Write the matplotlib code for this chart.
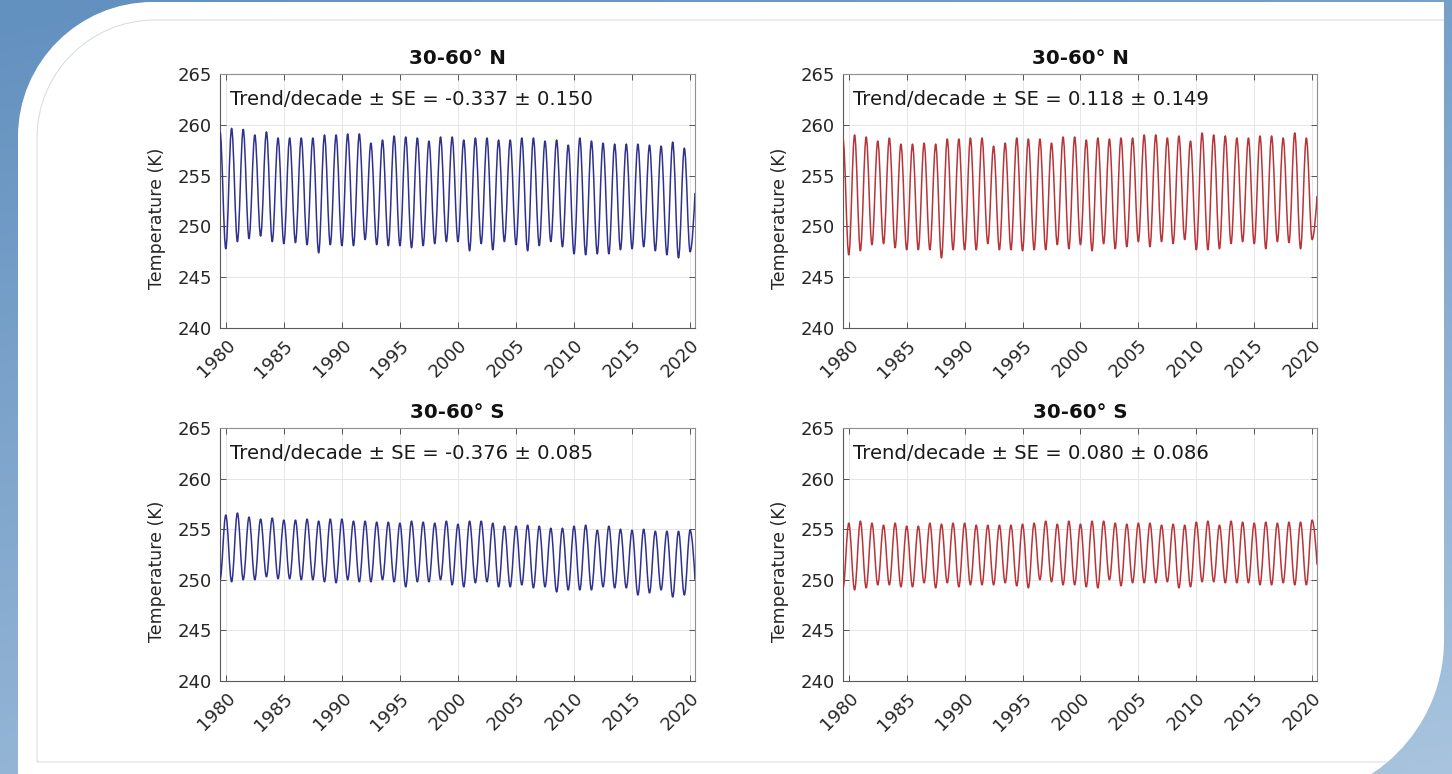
import numpy as np
import matplotlib
matplotlib.use("Agg")
import matplotlib.pyplot as plt
import matplotlib.transforms as mtransforms
from matplotlib.path import Path
from matplotlib.patches import PathPatch, FancyBboxPatch

plt.rcParams["font.family"] = ["DejaVu Sans"]

# ---------------------------------------------------------------------------
# Monthly zonal-mean temperature, summarised by its seasonal extremes (K)
# ---------------------------------------------------------------------------
years_a = list(range(1979, 2020))      # mid-year extremes (1979.5 ... 2019.5)
years_b = list(range(1980, 2021))      # January extremes (1980 ... 2020)
end_time = 2020.42                      # last plotted month

# 30-60 N, left series: July maxima and January minima
n_left_max = [259.3, 259.65, 259.55, 259.0, 259.3, 258.7, 258.7, 258.7, 258.7, 259.0,
              259.0, 259.1, 259.1, 258.2, 258.5, 258.9, 258.8, 258.7, 258.4, 258.8,
              258.8, 258.5, 258.7, 258.7, 258.5, 258.5, 258.7, 258.7, 258.4, 258.5,
              258.0, 258.7, 258.4, 258.2, 258.1, 258.1, 258.1, 258.0, 257.9, 258.3,
              257.7]
n_left_min = [247.8, 248.5, 248.8, 249.05, 248.5, 248.3, 248.4, 248.2, 247.4, 248.2,
              248.1, 248.1, 248.7, 248.2, 248.1, 248.1, 247.9, 248.1, 248.3, 248.5,
              248.5, 247.6, 248.3, 247.7, 248.5, 248.2, 247.6, 248.1, 248.5, 248.0,
              247.3, 247.2, 247.3, 247.3, 247.7, 247.8, 248.0, 247.6, 247.2, 246.9,
              247.5]
n_left_end = 253.3

# 30-60 N, right series
n_right_max = [258.6, 259.0, 258.8, 258.4, 258.7, 258.1, 258.1, 258.2, 258.1, 258.6,
               258.6, 258.7, 258.7, 257.9, 258.2, 258.7, 258.6, 258.6, 258.2, 258.8,
               258.8, 258.5, 258.7, 258.6, 258.7, 258.7, 259.0, 259.0, 258.7, 258.9,
               258.4, 259.2, 259.0, 258.9, 258.7, 258.7, 258.9, 258.9, 258.7, 259.2,
               258.7]
n_right_min = [247.2, 247.6, 248.2, 248.3, 247.9, 247.7, 247.7, 247.7, 246.9, 247.7,
               247.7, 247.7, 248.3, 247.7, 247.7, 247.6, 247.7, 247.7, 248.2, 247.8,
               248.2, 247.6, 248.3, 247.8, 248.0, 248.5, 248.0, 248.5, 248.3, 248.7,
               247.7, 247.7, 247.8, 248.3, 248.5, 248.3, 247.8, 248.5, 248.4, 247.8,
               248.7]
n_right_end = 253.0

# 30-60 S, left series: July minima and January maxima
s_left_min = [250.0, 249.8, 250.0, 250.0, 250.3, 250.1, 250.1, 250.0, 250.0, 249.8,
              249.7, 250.0, 249.8, 249.8, 250.0, 249.8, 249.3, 249.8, 249.8, 250.0,
              249.5, 249.3, 249.7, 249.8, 249.3, 249.3, 249.5, 249.2, 249.3, 248.8,
              249.0, 249.0, 249.0, 249.3, 249.2, 249.2, 248.5, 248.7, 249.0, 248.3,
              248.5]
s_left_max = [256.4, 256.6, 256.2, 256.0, 256.1, 255.9, 255.9, 256.0, 255.8, 256.0,
              256.0, 255.8, 255.8, 255.7, 255.7, 255.6, 255.8, 255.7, 255.6, 255.8,
              255.5, 255.8, 255.8, 255.6, 255.3, 255.3, 255.4, 255.3, 255.1, 255.1,
              255.3, 255.4, 254.9, 255.3, 255.0, 254.9, 255.0, 254.8, 254.8, 254.8,
              254.9]
s_left_end = 250.0

# 30-60 S, right series
s_right_min = [249.2, 249.0, 249.2, 249.5, 249.5, 249.3, 249.3, 249.7, 249.2, 249.7,
               249.3, 249.5, 249.5, 249.5, 249.7, 249.4, 249.2, 250.0, 249.8, 249.5,
               249.5, 249.3, 249.2, 250.0, 249.4, 249.7, 249.7, 249.7, 249.8, 249.2,
               249.3, 249.8, 249.8, 249.7, 249.7, 249.7, 249.5, 249.5, 249.7, 249.5,
               249.5]
s_right_max = [255.6, 255.8, 255.6, 255.4, 255.6, 255.3, 255.3, 255.6, 255.5, 255.6,
               255.6, 255.4, 255.4, 255.4, 255.4, 255.5, 255.6, 255.8, 255.5, 255.8,
               255.5, 255.8, 255.8, 255.6, 255.5, 255.6, 255.6, 255.4, 255.5, 255.4,
               255.7, 255.8, 255.4, 255.8, 255.7, 255.6, 255.7, 255.6, 255.7, 255.7,
               255.9]
s_right_end = 251.5

titles = ["30-60° N", "30-60° N", "30-60° S", "30-60° S"]
trend_labels = ["Trend/decade ± SE = -0.337 ± 0.150",
                "Trend/decade ± SE = 0.118 ± 0.149",
                "Trend/decade ± SE = -0.376 ± 0.085",
                "Trend/decade ± SE = 0.080 ± 0.086"]
x_ticks = [1980, 1985, 1990, 1995, 2000, 2005, 2010, 2015, 2020]
y_ticks = [240, 245, 250, 255, 260, 265]

BLUE = "#30318f"
RED = "#b83438"


def seasonal_series(mid_vals, jan_vals, end_val):
    """Merge mid-year and January extremes into one time-ordered sequence."""
    pts = [(y + 0.5, v) for y, v in zip(years_a, mid_vals)]
    pts += [(float(y), v) for y, v in zip(years_b, jan_vals)]
    pts.sort()
    pts.append((end_time, end_val))
    return pts


def smooth_path(pts):
    """Cubic path with level tangents at each seasonal turning point."""
    verts = [pts[0]]
    codes = [Path.MOVETO]
    for i in range(1, len(pts)):
        (t0, y0), (t1, y1) = pts[i - 1], pts[i]
        dt = t1 - t0
        if i == len(pts) - 1:
            c1 = (t0 + 0.4 * dt, y0)
            c2 = (t1 - 0.15 * dt, y0 + 0.7 * (y1 - y0))
        else:
            c1 = (t0 + 0.36 * dt, y0)
            c2 = (t1 - 0.36 * dt, y1)
        verts += [c1, c2, (t1, y1)]
        codes += [Path.CURVE4] * 3
    return Path(verts, codes)


def card_path(x0, y0, x1, y1, r_tl, r_br):
    """Card outline (y downward): rounded top-left and bottom-right corners."""
    k = 0.5523
    verts = [(x0, y1), (x0, y0 + r_tl),
             (x0, y0 + r_tl * (1 - k)), (x0 + r_tl * (1 - k), y0), (x0 + r_tl, y0),
             (x1, y0), (x1, y1 - r_br),
             (x1, y1 - r_br * (1 - k)), (x1 - r_br * (1 - k), y1), (x1 - r_br, y1),
             (x0, y1)]
    codes = [Path.MOVETO, Path.LINETO,
             Path.CURVE4, Path.CURVE4, Path.CURVE4,
             Path.LINETO, Path.LINETO,
             Path.CURVE4, Path.CURVE4, Path.CURVE4,
             Path.CLOSEPOLY]
    return Path(verts, codes)


series = [
    (seasonal_series(n_left_max, n_left_min, n_left_end), BLUE),
    (seasonal_series(n_right_max, n_right_min, n_right_end), RED),
    (seasonal_series(s_left_min, s_left_max, s_left_end), BLUE),
    (seasonal_series(s_right_min, s_right_max, s_right_end), RED),
]

W, H = 1452, 774
fig = plt.figure(figsize=(W / 100, H / 100), dpi=100)

# ---- framed card background ----
bg = fig.add_axes([0, 0, 1, 1], zorder=-10)
bg.set_xlim(0, W)
bg.set_ylim(H, 0)
bg.axis("off")
gx, gy = np.meshgrid(np.linspace(0, 1, 160), np.linspace(0, 1, 90))
tmix = np.clip(0.6 * gy + 0.25 * gx, 0, 1)[..., None]
c_dark = np.array([0x62, 0x90, 0xbf]) / 255
c_light = np.array([0xb4, 0xcd, 0xe4]) / 255
bg.imshow(c_dark * (1 - tmix) + c_light * tmix, extent=(0, W, H, 0), aspect="auto",
          interpolation="bicubic", zorder=0)
card = PathPatch(card_path(18, 2, 1444, 800, 135, 160), fc="white", ec="none",
                 zorder=1)
bg.add_patch(card)
inner = PathPatch(card_path(37, 20, 1520, 762, 118, 130), fc="none",
                  ec="#d3dbe3", lw=0.7, zorder=2)
bg.add_patch(inner)
inner.set_clip_path(card)

# ---- panels (pixel boxes: left, top, right, bottom) ----
boxes = [(220, 74, 695, 328), (843, 74, 1317, 328),
         (220, 428, 695, 681), (843, 428, 1317, 681)]
label_shift = mtransforms.ScaledTranslation(3 / 100, 0, fig.dpi_scale_trans)

for (pts, color), box, title, label in zip(series, boxes, titles, trend_labels):
    l, t, r, b = box
    ax = fig.add_axes([l / W, 1 - b / H, (r - l) / W, (b - t) / H])
    ax.add_patch(PathPatch(smooth_path(pts), fc="none", ec=color, lw=1.1,
                           joinstyle="round", zorder=3))
    ax.set_xlim(1979.5, 2020.42)
    ax.set_ylim(240, 265)
    ax.set_xticks(x_ticks)
    ax.set_yticks(y_ticks)
    ax.set_xticklabels([str(v) for v in x_ticks], rotation=45, ha="right",
                       va="top", rotation_mode="anchor")
    for lab in ax.get_xticklabels():
        lab.set_transform(lab.get_transform() + label_shift)
    ax.tick_params(direction="in", length=4, width=0.7, colors="#555555",
                   labelcolor="#262626", labelsize=13, top=True, right=True,
                   pad=6)
    ax.grid(True, color="#e6e6e6", lw=0.7)
    ax.set_axisbelow(True)
    for side, sp in ax.spines.items():
        sp.set_color("#5a5a5a" if side in ("left", "bottom") else "#8f8f8f")
        sp.set_linewidth(0.8)
    ax.set_title(title, fontsize=14.2, fontweight="bold", color="#111111", pad=7)
    ax.set_ylabel("Temperature (K)", fontsize=12.5, color="#262626")
    ax.yaxis.set_label_coords(-0.113, 0.433)
    ax.text(0.021, 0.898, label, transform=ax.transAxes, fontsize=14.1,
            color="#1a1a1a", ha="left", va="center")

fig.savefig("out.png", dpi=100)
